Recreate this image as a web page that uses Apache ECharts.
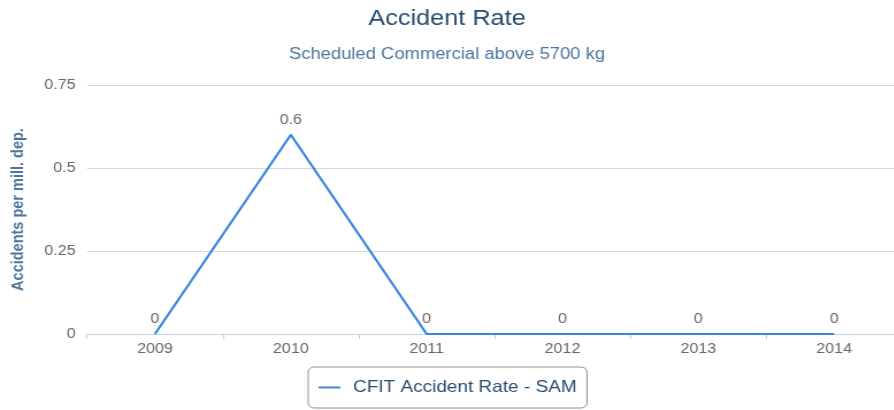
<html lang="en">
<head>
    <meta charset="UTF-8">
    <script src="https://cdn.jsdelivr.net/npm/echarts@6/dist/echarts.min.js"></script>
    <title>Accident Rate</title>
    <style>
        body { margin: 0; overflow: hidden; background: #fff; }
        /* the reference is stretched a bit horizontally, so draw narrow and widen */
        #main { width: 790px; height: 410px; transform: scaleX(1.15); transform-origin: 0 0; }
    </style>
</head>
<body>

<div id="main"></div>

<script>
  // chart data
  var years = ['2009', '2010', '2011', '2012', '2013', '2014'];
  var rates = [0, 0.6, 0, 0, 0, 0];
  var seriesName = 'CFIT Accident Rate - SAM';
  var yTicks = { min: 0, max: 0.75, interval: 0.25 };

  var font = "'Liberation Sans', Arial, sans-serif";
  var midX = 388.7; // visible centre before the horizontal stretch

  var myChart = echarts.init(document.getElementById('main'));

  var option = {
      animation: false,
      title: {
          text: 'Accident Rate',
          subtext: 'Scheduled Commercial above 5700 kg',
          left: midX,
          textAlign: 'center',
          top: 8,
          padding: 0,
          itemGap: 17,
          textStyle: { fontFamily: font, fontSize: 22, fontWeight: 'normal', color: '#274b6d' },
          subtextStyle: { fontFamily: font, fontSize: 16, color: '#4d759e' }
      },
      legend: {
          data: [seriesName],
          left: 268,
          bottom: 2,
          borderColor: '#909090',
          borderWidth: 1,
          borderRadius: 5,
          padding: [12, 9, 12, 9],
          icon: 'rect',
          itemWidth: 19,
          itemHeight: 2,
          textStyle: { fontFamily: font, fontSize: 16.5, color: '#274b6d', padding: [0, 0, 0, 6] }
      },
      grid: { left: 75.7, right: 5.6, top: 85, bottom: 76, containLabel: false },
      xAxis: {
          type: 'category',
          data: years,
          boundaryGap: true,
          axisLine: { lineStyle: { color: '#C0D0E0', width: 1 } },
          axisTick: { show: true, length: 5, lineStyle: { color: '#C0D0E0' } },
          axisLabel: { color: '#666', fontFamily: font, fontSize: 14, margin: 8 },
          splitLine: { show: false }
      },
      yAxis: {
          type: 'value',
          min: yTicks.min,
          max: yTicks.max,
          interval: yTicks.interval,
          name: 'Accidents per mill. dep.',
          nameLocation: 'middle',
          nameGap: 52,
          nameTextStyle: { fontFamily: font, fontSize: 14.5, fontWeight: 'bold', color: '#4d759e' },
          axisLine: { show: false },
          axisTick: { show: false },
          axisLabel: { color: '#666', fontFamily: font, fontSize: 14, margin: 10 },
          splitLine: { lineStyle: { color: '#D8D8D8', width: 1 } }
      },
      series: [{
          name: seriesName,
          type: 'line',
          data: rates,
          symbol: 'circle',
          symbolSize: 0,
          showSymbol: true,
          itemStyle: { color: '#3a86dc' },
          lineStyle: { color: '#3a86dc', width: 2.2 },
          label: {
              show: true,
              position: 'top',
              distance: 8,
              color: '#666',
              fontFamily: font,
              fontSize: 14
          }
      }]
  };

  myChart.setOption(option);
</script>

</body>
</html>
